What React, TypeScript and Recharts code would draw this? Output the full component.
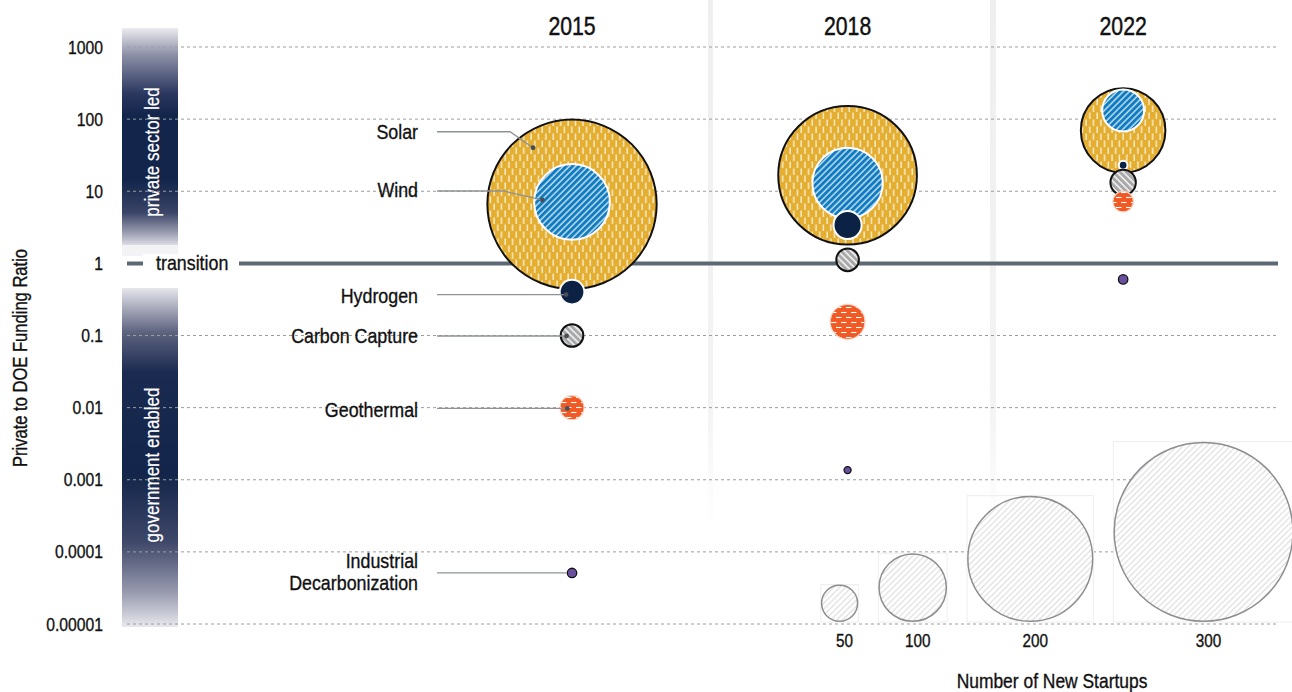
import React from 'react';
import { ComposedChart, Scatter, XAxis, YAxis, ReferenceLine, ReferenceDot } from 'recharts';

// ---------- data ----------
const years = ['2015', '2018', '2022'];
const categories = ['Solar', 'Wind', 'Hydrogen', 'Carbon Capture', 'Geothermal', 'Industrial Decarbonization'];

// private-to-DOE funding ratio per year
const solarRatio = [6.6, 16.7, 69.6];
const windRatio = [7.1, 13.0, 132];
const hydrogenRatio = [0.4, 3.4, 23];
const carbonRatio = [0.1, 1.12, 13.2];
const geothermalRatio = [0.01, 0.155, 7.2];
const industrialRatio = [0.000051, 0.00136, 0.6];

// number of new startups per year
const solarStartups = [283, 226, 130];
const windStartups = [115, 106, 60];
const hydrogenStartups = [34, 39, 12];
const carbonStartups = [31, 31, 35];
const geothermalStartups = [32, 48, 27];
const industrialStartups = [12, 9, 12];

const yTicks = [1000, 100, 10, 1, 0.1, 0.01, 0.001, 0.0001, 0.00001];
const yTickLabels = ['1000', '100', '10', '1', '0.1', '0.01', '0.001', '0.0001', '0.00001'];
const legendSizes = [50, 100, 200, 300];

const ratios = [solarRatio, windRatio, hydrogenRatio, carbonRatio, geothermalRatio, industrialRatio];
const startups = [solarStartups, windStartups, hydrogenStartups, carbonStartups, geothermalStartups, industrialStartups];

const seriesData = categories.map((c, ci) =>
  years.map((y, i) => ({ col: i, year: y, category: c, ratio: ratios[ci][i], n: startups[ci][i] }))
);

// ---------- styles ----------
const FONT = "'Liberation Sans', Arial, sans-serif";
const SX = 0.85; // horizontal condensing of the type
const CAP = 0.358; // half cap-height in em, to centre text on a y

const NText = ({ x, y, size, anchor = 'start', fill = '#111', rotate = 0, dy = 0, weight = 0.35, children }: any) => (
  <text
    transform={`translate(${x},${y})${rotate ? ` rotate(${rotate})` : ''} scale(${SX},1)`}
    y={dy}
    textAnchor={anchor}
    fontSize={size}
    fill={fill}
    stroke={fill}
    strokeWidth={weight}
    fontFamily={FONT}
  >
    {children}
  </text>
);

const radiusOf = (n: number) => 0.606 * Math.pow(n, 0.877);

const catStyles = [
  { fill: 'url(#pSolar)', stroke: '#111111', sw: 2 },
  { fill: 'url(#pWind)', stroke: '#ffffff', sw: 2 },
  { fill: '#0b2245', stroke: '#ffffff', sw: 2 },
  { fill: 'url(#pCarbon)', stroke: '#111111', sw: 2 },
  { fill: 'url(#pGeo)', stroke: '#fbd7c8', sw: 1.2 },
  { fill: '#6a4fa0', stroke: '#111111', sw: 1.3 },
];

// leader-line geometry relative to the 2015 bubble centre
const leaders = [
  { ly: -73, lineY: -72.5, elbowX: -62, dot: [-39, -56.5] },
  { ly: -12, lineY: -11, elbowX: -68.7, dot: [-29.7, -2] },
  { ly: 3, lineY: 2.5, elbowX: null, dot: [-6, 2.5] },
  { ly: 0, lineY: 0.5, elbowX: null, dot: [-5.5, 0.5] },
  { ly: 1.5, lineY: 0.8, elbowX: null, dot: [-4.7, 0.8] },
  { ly: 0, lineY: 0, elbowX: null, dot: null },
];

const LABEL_X = -154;
const LINE_X = -135;
const LABEL_SIZE = 21;

const renderLeader = (ci: number, cx: number, cy: number, r: number) => {
  const L = leaders[ci];
  const lx = cx + LABEL_X;
  const sx = cx + LINE_X;
  const label = categories[ci];
  const base = CAP * LABEL_SIZE;
  const text =
    ci === 5 ? (
      <g>
        <NText x={lx} y={cy - 12 + base} size={LABEL_SIZE} anchor="end">Industrial</NText>
        <NText x={lx} y={cy + 10 + base} size={LABEL_SIZE} anchor="end">Decarbonization</NText>
      </g>
    ) : (
      <NText x={lx} y={cy + L.ly + base} size={LABEL_SIZE} anchor="end">{label}</NText>
    );
  let path: string;
  if (L.dot == null) {
    path = `M${sx},${cy + L.lineY} L${cx - r},${cy + L.lineY}`;
  } else if (L.elbowX != null) {
    path = `M${sx},${cy + L.lineY} L${cx + L.elbowX},${cy + L.lineY} L${cx + L.dot[0]},${cy + L.dot[1]}`;
  } else {
    path = `M${sx},${cy + L.lineY} L${cx + L.dot[0]},${cy + L.dot[1]}`;
  }
  return (
    <g>
      {text}
      <path d={path} fill="none" stroke="#8e9296" strokeWidth={1.3} />
      {L.dot && <circle cx={cx + L.dot[0]} cy={cy + L.dot[1]} r={2.4} fill="#4a4f55" />}
    </g>
  );
};

const makeShape = (ci: number) => (props: any) => {
  const { cx, cy, payload } = props;
  if (cx == null || cy == null || !payload) return <g />;
  const st = catStyles[ci];
  const r = radiusOf(payload.n);
  return (
    <g>
      <circle cx={cx} cy={cy} r={Math.max(r - st.sw / 2, 1)} fill={st.fill} stroke={st.stroke} strokeWidth={st.sw} />
      {payload.col === 0 ? renderLeader(ci, cx, cy, r) : null}
    </g>
  );
};

const LEGEND_X = 0.903;
const LEGEND_GAP = 20;
const LegendShape = (props: any) => {
  const { cx, cy } = props;
  if (cx == null || cy == null) return <g />;
  let x = cx;
  const items = legendSizes.map((n) => {
    const r = radiusOf(n);
    const c = x + r;
    x += 2 * r + LEGEND_GAP;
    return { n, r, c };
  });
  const base = cy - 2;
  return (
    <g>
      {items.map((it) => (
        <g key={it.n}>
          <rect x={it.c - it.r} y={base - 2 * it.r} width={2 * it.r} height={2 * it.r} fill="none" stroke="#eeeeee" strokeWidth={1} />
          <circle cx={it.c} cy={base - it.r} r={it.r - 0.75} fill="url(#pLegend)" stroke="#8d8d92" strokeWidth={1.5} />
          <NText x={it.c + 5} y={cy + 22.5} size={18} anchor="middle">{it.n}</NText>
        </g>
      ))}
    </g>
  );
};

const YTick = (props: any) => {
  const { x, y, payload } = props;
  const i = yTicks.indexOf(payload.value);
  return <NText x={x} y={y + CAP * 18.5} size={18.5} anchor="end">{i >= 0 ? yTickLabels[i] : String(payload.value)}</NText>;
};

const XTick = (props: any) => {
  const { x, y, payload } = props;
  return <NText x={x} y={y} size={25} anchor="middle" weight={0.45}>{years[payload.value] ?? ''}</NText>;
};

const gridValues = yTicks.filter((v) => v !== 1);

export default function App() {
  return (
    <div style={{ position: 'absolute', left: 0, top: 0, width: 1292, height: 692, background: '#fff', overflow: 'hidden', fontFamily: FONT }}>
      {/* background decoration */}
      <svg width={1292} height={692} style={{ position: 'absolute', left: 0, top: 0 }}>
        <defs>
          <linearGradient id="gTop" x1="0" y1="0" x2="0" y2="1">
            <stop offset="0" stopColor="#ececf0" />
            <stop offset="0.12" stopColor="#8f92a8" />
            <stop offset="0.3" stopColor="#2c3860" />
            <stop offset="0.4" stopColor="#13254b" />
            <stop offset="0.7" stopColor="#13254b" />
            <stop offset="0.85" stopColor="#3a4466" />
            <stop offset="0.95" stopColor="#a2a4b6" />
            <stop offset="1" stopColor="#dcdce4" />
          </linearGradient>
          <linearGradient id="gBot" x1="0" y1="0" x2="0" y2="1">
            <stop offset="0" stopColor="#e6e6ec" />
            <stop offset="0.13" stopColor="#5e6380" />
            <stop offset="0.25" stopColor="#1a2a50" />
            <stop offset="0.55" stopColor="#13254a" />
            <stop offset="0.75" stopColor="#3f4869" />
            <stop offset="0.9" stopColor="#9a9cb0" />
            <stop offset="1" stopColor="#e8e8ee" />
          </linearGradient>
          <linearGradient id="gSep" x1="0" y1="0" x2="0" y2="1">
            <stop offset="0" stopColor="#efefef" />
            <stop offset="0.75" stopColor="#f3f3f3" />
            <stop offset="1" stopColor="#ffffff" />
          </linearGradient>
          <pattern id="pSolar" width="7.4" height="14" patternUnits="userSpaceOnUse">
            <rect width="7.4" height="14" fill="#e4ae31" />
            <line x1="2" y1="0.5" x2="2" y2="7" stroke="#ffffff" strokeWidth="1.1" />
            <line x1="5.7" y1="7.5" x2="5.7" y2="14" stroke="#ffffff" strokeWidth="1.1" />
          </pattern>
          <pattern id="pWind" width="4.4" height="10" patternUnits="userSpaceOnUse" patternTransform="rotate(45)">
            <rect width="4.4" height="10" fill="#0f7cc2" />
            <line x1="1" y1="0" x2="1" y2="10" stroke="#ffffff" strokeWidth="1.1" />
          </pattern>
          <pattern id="pCarbon" width="4.6" height="10" patternUnits="userSpaceOnUse" patternTransform="rotate(-45)">
            <rect width="4.6" height="10" fill="#a8a8a8" />
            <line x1="1" y1="0" x2="1" y2="10" stroke="#ffffff" strokeWidth="1.4" />
          </pattern>
          <pattern id="pGeo" width="10" height="10" patternUnits="userSpaceOnUse">
            <rect width="10" height="10" fill="#f15a24" />
            <line x1="1" y1="2.5" x2="6.5" y2="2.5" stroke="#ffffff" strokeWidth="1.1" />
            <line x1="6" y1="7.5" x2="10" y2="7.5" stroke="#ffffff" strokeWidth="1.1" />
            <line x1="0" y1="7.5" x2="1.5" y2="7.5" stroke="#ffffff" strokeWidth="1.1" />
          </pattern>
          <pattern id="pLegend" width="4.2" height="10" patternUnits="userSpaceOnUse" patternTransform="rotate(45)">
            <rect width="4.2" height="10" fill="#ffffff" />
            <line x1="1" y1="0" x2="1" y2="10" stroke="#d4d4d4" strokeWidth="0.9" />
          </pattern>
        </defs>
        <rect x={708} y={0} width={5} height={530} fill="url(#gSep)" />
        <rect x={990} y={0} width={6} height={530} fill="url(#gSep)" />
        <rect x={122} y={28} width={56} height={217} fill="url(#gTop)" />
        <rect x={122} y={245} width={56} height={11} fill="#f3f3f5" />
        <rect x={122} y={288} width={56} height={339} fill="url(#gBot)" />
        <NText x={152} y={152} rotate={-90} dy={CAP * 20} size={20} anchor="middle" fill="#ffffff" weight={0.2}>private sector led</NText>
        <NText x={152} y={465} rotate={-90} dy={CAP * 20} size={20} anchor="middle" fill="#ffffff" weight={0.2}>government enabled</NText>
        <NText x={20} y={358} rotate={-90} dy={CAP * 19.5} size={19.5} anchor="middle">Private to DOE Funding Ratio</NText>
        <NText x={1052} y={688} size={20.5} anchor="middle">Number of New Startups</NText>
      </svg>

      <div style={{ position: 'absolute', left: 0, top: 0 }}>
        <ComposedChart width={1292} height={692} margin={{ top: 17, right: 14, bottom: 68, left: 0 }}>
          <XAxis
            xAxisId="x"
            type="number"
            dataKey="col"
            orientation="top"
            domain={[-1.615, 2.562]}
            allowDataOverflow
            ticks={[0, 1, 2]}
            axisLine={false}
            tickLine={false}
            height={30}
            tickMargin={6}
            tick={XTick}
          />
          <YAxis
            yAxisId="y"
            type="number"
            dataKey="ratio"
            scale="log"
            domain={[0.00001, 1000]}
            allowDataOverflow
            ticks={yTicks}
            interval={0}
            axisLine={false}
            tickLine={false}
            width={127}
            tickMargin={18}
            tick={YTick}
          />
          {gridValues.map((v) => (
            <ReferenceLine key={v} xAxisId="x" yAxisId="y" y={v} stroke="#9c9c9c" strokeWidth={1} strokeDasharray="3 3" />
          ))}
          <ReferenceLine xAxisId="x" yAxisId="y" y={1} stroke="#5c6975" strokeWidth={4} />
          <ReferenceDot xAxisId="x" yAxisId="y" x={LEGEND_X} y={0.00001} r={1} ifOverflow="visible" shape={LegendShape} />
          {seriesData.map((d, ci) => (
            <Scatter
              key={categories[ci]}
              name={categories[ci]}
              xAxisId="x"
              yAxisId="y"
              data={d}
              dataKey="ratio"
              shape={makeShape(ci)}
              isAnimationActive={false}
            />
          ))}
        </ComposedChart>
      </div>

      {/* transition label */}
      <svg width={1292} height={692} style={{ position: 'absolute', left: 0, top: 0, pointerEvents: 'none' }}>
        <rect x={143} y={254} width={96} height={19} fill="#ffffff" />
        <NText x={156} y={262 + CAP * 21} size={21}>transition</NText>
      </svg>
    </div>
  );
}
